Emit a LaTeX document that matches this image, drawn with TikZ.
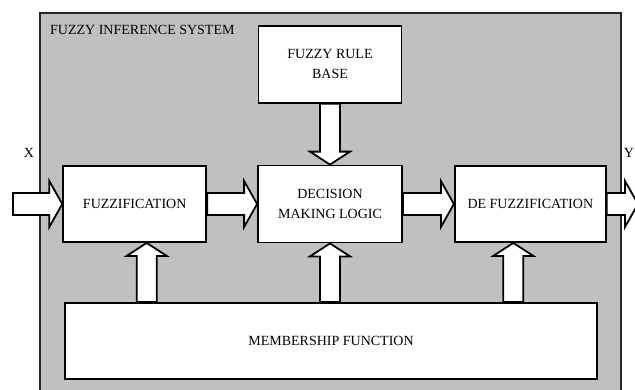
\documentclass[tikz,border=0pt]{standalone}
\usepackage{fontspec}
\setmainfont{Liberation Serif}
\usetikzlibrary{positioning,calc}
\definecolor{fisgray}{RGB}{192,192,192}
\tikzset{%
  block/.style={draw, line width=1.8pt, fill=white, align=center, font=\fontsize{14}{20}\selectfont, inner sep=2pt},
  fatarrow/.style={draw, line width=1.8pt, fill=white, line join=miter},
  system/.style={draw=black!85, line width=1.3pt, fill=fisgray},
  lbl/.style={font=\fontsize{14}{16}\selectfont, inner sep=0pt},
}
\newcommand{\harrow}[2]{%
  \path [fatarrow] ($(#1)+(0,-11)$) -- ($(#2)+(-13,-11)$) -- ($(#2)+(-13,-23)$) -- (#2)
    -- ($(#2)+(-13,23)$) -- ($(#2)+(-13,11)$) -- ($(#1)+(0,11)$) -- cycle;}
\newcommand{\varrow}[3]{%
  \path [fatarrow] ($(#1)+(-10,0)$) -- ($(#2)+(-10,#3)$) -- ($(#2)+(-20,#3)$) -- (#2)
    -- ($(#2)+(20,#3)$) -- ($(#2)+(10,#3)$) -- ($(#1)+(10,0)$) -- cycle;}

\begin{document}
\begin{tikzpicture}[x=1pt, y=-1pt]
  \useasboundingbox (0,0) rectangle (635,389);
  \path [system] (40,13) rectangle (621,402);
  \node (title) [lbl, anchor=west] at (50,30) {FUZZY INFERENCE SYSTEM};

  \node (dec) [block, minimum width=144pt, minimum height=77pt] at (330,204) {DECISION\\ MAKING LOGIC};
  \node (rule) [block, minimum width=143pt, minimum height=77pt, above=61pt of dec] {FUZZY RULE\\ BASE};
  \node (fuzz) [block, minimum width=143pt, minimum height=76pt, left=50pt of dec] {FUZZIFICATION};
  \node (defuzz) [block, minimum width=151pt, minimum height=76pt, right=51pt of dec] {DE FUZZIFICATION};
  \node (mem) [block, minimum width=532pt, minimum height=76pt] at (331,341) {MEMBERSHIP FUNCTION};

  \node (xlbl) [lbl] at (29,153) {X};
  \node (ylbl) [lbl] at (629,153) {Y};

  \coordinate (xin) at (13,204);
  \coordinate (yout) at (638,204);
  \coordinate (u1) at ($(fuzz.south)+(12,0)$);
  \coordinate (u2) at (dec.south);
  \coordinate (u3) at ($(defuzz.south)+(-17,0)$);
  \coordinate (m1) at (u1 |- mem.north);
  \coordinate (m2) at (u2 |- mem.north);
  \coordinate (m3) at (u3 |- mem.north);

  \harrow{xin}{fuzz.west}
  \harrow{fuzz.east}{dec.west}
  \harrow{dec.east}{defuzz.west}
  \harrow{defuzz.east}{yout}
  \varrow{rule.south}{dec.north}{-13}
  \varrow{m1}{u1}{13}
  \varrow{m2}{u2}{13}
  \varrow{m3}{u3}{13}
\end{tikzpicture}
\end{document}
